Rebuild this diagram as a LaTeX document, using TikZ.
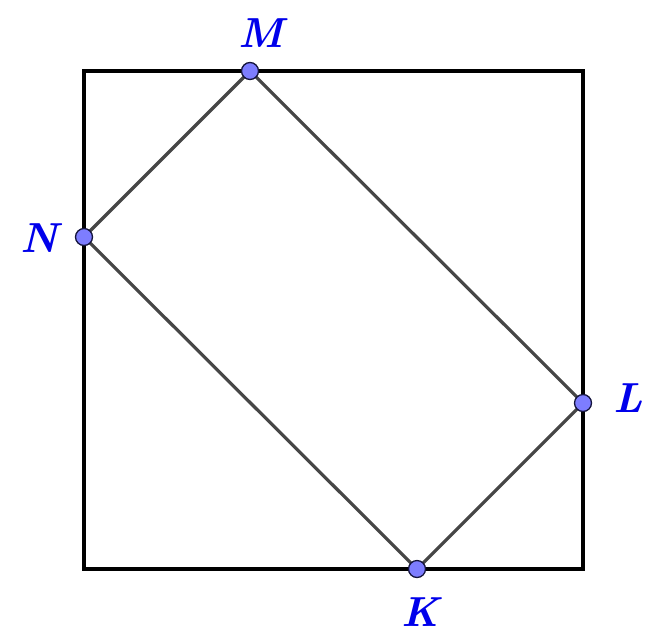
\documentclass[tikz,border=0pt]{standalone}
\usepackage{tikz}
\definecolor{ptfill}{RGB}{125,125,255}
\definecolor{ptdraw}{RGB}{20,20,60}
\definecolor{lbl}{RGB}{0,0,235}
\definecolor{seg}{RGB}{70,70,70}
\tikzset{
  sq/.style={draw=black,line width=3.2pt},
  rect/.style={draw=seg,line width=3.2pt},
  pt/.style={circle,fill=ptfill,draw=ptdraw,line width=1.3pt,inner sep=0pt,minimum size=17pt},
  lab/.style={text=lbl,font=\fontsize{42}{42}\selectfont\bfseries\itshape,inner sep=0pt}
}
\begin{document}
\begin{tikzpicture}[x=1pt,y=-1pt]
\useasboundingbox (0,0) rectangle (655,638);
\coordinate (A) at (84,71);
\coordinate (B) at (583,71);
\coordinate (C) at (583,569);
\coordinate (D) at (84,569);
\draw[sq] (A) -- (B) -- (C) -- (D) -- cycle;
\coordinate (m) at (250,71);
\coordinate (n) at (84,237);
\coordinate (l) at (583,403);
\coordinate (k) at (417,569);
\draw[rect,line join=round] (m) -- (l) -- (k) -- (n) -- cycle;
\node[pt] (M) at (m) {};
\node[pt] (N) at (n) {};
\node[pt] (L) at (l) {};
\node[pt] (K) at (k) {};
\node[lab] (tM) at (261,33) {M};
\node[lab] (tN) at (39,238) {N};
\node[lab] (tL) at (628,398) {L};
\node[lab] (tK) at (420,612) {K};
\end{tikzpicture}
\end{document}
